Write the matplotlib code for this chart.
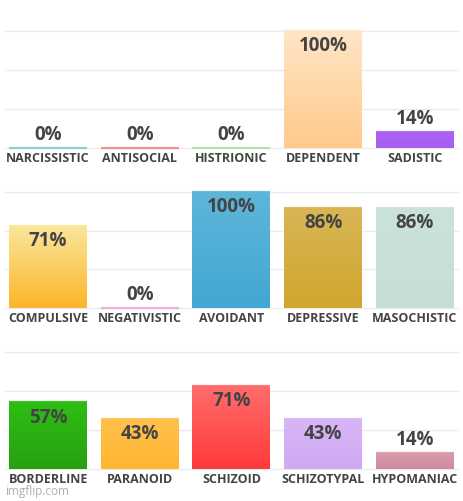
import numpy as np
import matplotlib.pyplot as plt
from matplotlib.colors import LinearSegmentedColormap

# Datos: tres filas de cinco trastornos
rows = [
    ["NARCISSISTIC", "ANTISOCIAL", "HISTRIONIC", "DEPENDENT", "SADISTIC"],
    ["COMPULSIVE", "NEGATIVISTIC", "AVOIDANT", "DEPRESSIVE", "MASOCHISTIC"],
    ["BORDERLINE", "PARANOID", "SCHIZOID", "SCHIZOTYPAL", "HYPOMANIAC"],
]
values = [
    [0, 0, 0, 100, 14],
    [71, 0, 100, 86, 86],
    [57, 43, 71, 43, 14],
]
# colores (arriba, abajo) de cada barra
colors = [
    [("#7fd0c8", "#7fd0c8"), ("#f28a8a", "#f28a8a"), ("#a6e89a", "#a6e89a"),
     ("#ffe5c6", "#ffca8c"), ("#aa64f2", "#a85ef0")],
    [("#fae79c", "#fdb42a"), ("#f5a6d6", "#f5a6d6"), ("#5eb6da", "#42a7d3"),
     ("#d8b654", "#d0a62f"), ("#cae2d9", "#c6ded4")],
    [("#2ebe15", "#26a00f"), ("#ffc14c", "#ffb631"), ("#ff6c6c", "#ff3a3a"),
     ("#d7b6f6", "#cfa9f2"), ("#d89bac", "#cf8b9f")],
]

plt.rcParams['font.family'] = ['Open Sans', 'DejaVu Sans']
txt = "#444444"

fig = plt.figure(figsize=(4.64, 5.01), dpi=100)
bottoms = [0.7046, 0.3852, 0.0639]
heights = [0.2335, 0.2315, 0.2335]

for r in range(3):
    ax = fig.add_axes([0.0108, bottoms[r], 0.976, heights[r]])
    x = np.arange(5)
    w = 0.85
    for g in [0, 100 / 3, 200 / 3, 100]:
        ax.axhline(g, color="#ebebeb", lw=1, zorder=0, clip_on=False)
    bars = ax.bar(x, values[r], width=w, color="none", zorder=2)
    for i, b in enumerate(bars):
        top, bot = colors[r][i]
        v = values[r][i]
        cmap = LinearSegmentedColormap.from_list("g", [bot, top])
        if v > 0:
            grad = np.linspace(0, 1, 100).reshape(-1, 1)
            im = ax.imshow(grad, cmap=cmap, origin="lower", aspect="auto",
                           extent=(x[i] - w / 2, x[i] + w / 2, 0, v), zorder=2)
            im.set_clip_path(b)
        # borde superior claro
        ax.hlines(v, x[i] - w / 2, x[i] + w / 2, color=top, lw=1.6,
                  zorder=3, clip_on=False, alpha=0.9)
        if v > 20:
            ax.text(x[i], v - 4.5, f"{v}%", ha="center", va="top",
                    fontsize=13.5, fontweight="bold", color=txt, zorder=4)
        else:
            ax.text(x[i], v + 2.5, f"{v}%", ha="center", va="bottom",
                    fontsize=13.5, fontweight="bold", color=txt, zorder=4)
    ax.set_xlim(-0.47, 4.47)
    ax.set_ylim(0, 100)
    ax.set_xticks(x)
    ax.set_xticklabels(rows[r], fontsize=9, fontweight="bold", color=txt)
    ax.tick_params(axis="x", length=0, pad=3)
    ax.set_yticks([])
    for s in ax.spines.values():
        s.set_visible(False)

fig.text(0.011, 0.018, "imgflip.com", fontsize=8.5, color="#b0b0b0",
         ha="left", va="center")

fig.savefig("out.png", dpi=100)
